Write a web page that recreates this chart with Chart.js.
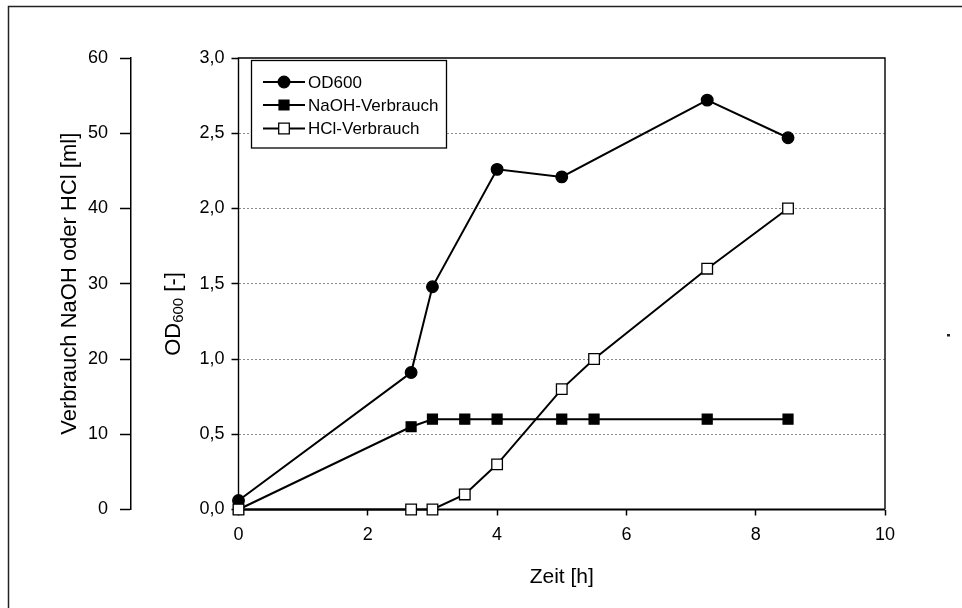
<!DOCTYPE html>
<html><head><meta charset="utf-8">
<script src="https://cdn.jsdelivr.net/npm/chart.js@4.4.1/dist/chart.umd.min.js"></script>
<style>html,body{margin:0;padding:0;background:#fff;}#wrap{width:962px;height:608px;position:relative}canvas{display:block}</style>
</head><body><div id="wrap"><canvas id="c" width="962" height="608"></canvas></div>
<script>
// ---- data ----
const timeOD   = [0, 2.67, 3.0, 4.0, 5.0, 7.25, 8.5];
const od600    = [0.06, 0.91, 1.48, 2.26, 2.21, 2.72, 2.47];
const timeBase = [0, 2.67, 3.0, 3.5, 4.0, 5.0, 5.5, 7.25, 8.5];
const naoh     = [0, 11, 12, 12, 12, 12, 12, 12, 12];
const hcl      = [0, 0, 0, 2, 6, 16, 20, 32, 40];
const xTicks   = [0, 2, 4, 6, 8, 10];
const odTicks  = [0, 0.5, 1.0, 1.5, 2.0, 2.5, 3.0];
const mlTicks  = [0, 10, 20, 30, 40, 50, 60];
const seriesNames = ['OD600', 'NaOH-Verbrauch', 'HCl-Verbrauch'];
const xTitle  = 'Zeit [h]';
const mlTitle = 'Verbrauch NaOH oder HCl [ml]';

const FONT = "'Liberation Sans', Arial, Helvetica, sans-serif";
const INK = '#000';

function pts(xs, ys){ return xs.map((x,i)=>({x:x, y:ys[i]})); }

const markerStyles = [
  {pointStyle:'circle', radius:5.8, fill:INK, stroke:INK},
  {pointStyle:'rect', radius:7, fill:INK, stroke:INK},
  {pointStyle:'rect', radius:7.5, fill:'#fff', stroke:INK}
];

function drawMarker(ctx, st, x, y){
  ctx.save();
  ctx.fillStyle = st.fill; ctx.strokeStyle = st.stroke; ctx.lineWidth = 1.3;
  ctx.beginPath();
  if (st.pointStyle === 'circle') {
    ctx.arc(x, y, st.radius, 0, Math.PI*2);
  } else {
    const h = st.radius * Math.SQRT1_2;
    ctx.rect(x-h, y-h, 2*h, 2*h);
  }
  ctx.fill(); ctx.stroke();
  ctx.restore();
}

const decor = {
  id: 'decor',
  beforeDraw(chart){
    const ctx = chart.ctx;
    ctx.save();
    ctx.fillStyle = '#fff';
    ctx.fillRect(0,0,chart.width,chart.height);
    ctx.strokeStyle = '#222'; ctx.lineWidth = 1.5;
    ctx.beginPath();
    ctx.moveTo(8.5, chart.height); ctx.lineTo(8.5, 6.5); ctx.lineTo(chart.width, 6.5);
    ctx.stroke();
    ctx.fillStyle = '#222';
    ctx.fillRect(947, 334, 3, 2.5);
    ctx.restore();
  },
  beforeDatasetsDraw(chart){
    const ctx = chart.ctx, a = chart.chartArea;
    ctx.save();
    ctx.strokeStyle = INK; ctx.lineWidth = 1.4;
    ctx.beginPath();
    ctx.moveTo(a.left, a.bottom); ctx.lineTo(a.left, a.top); ctx.lineTo(a.right, a.top); ctx.lineTo(a.right, a.bottom);
    ctx.stroke();
    ctx.lineWidth = 2;
    ctx.beginPath(); ctx.moveTo(a.left, a.bottom); ctx.lineTo(a.right, a.bottom); ctx.stroke();
    ctx.restore();
  },
  afterDraw(chart){
    const ctx = chart.ctx;
    // legend
    ctx.save();
    ctx.fillStyle = '#fff';
    ctx.fillRect(251.5, 60.5, 195, 87.5);
    ctx.strokeStyle = INK; ctx.lineWidth = 1.3;
    ctx.strokeRect(251.5, 60.5, 195, 87.5);
    const rows = [82, 105, 128.5];
    chart.data.datasets.forEach((ds) => {
      const idx = ds.legendIndex;
      const y = rows[idx];
      ctx.strokeStyle = INK; ctx.lineWidth = 2;
      ctx.beginPath(); ctx.moveTo(263, y); ctx.lineTo(305, y); ctx.stroke();
      drawMarker(ctx, markerStyles[idx], 284, y);
      ctx.fillStyle = INK;
      ctx.font = '17px ' + FONT;
      ctx.textAlign = 'left'; ctx.textBaseline = 'middle';
      ctx.fillText(ds.label, 308, y+1);
    });
    ctx.restore();
    // OD axis title with subscript
    ctx.save();
    ctx.translate(174, 314);
    ctx.rotate(-Math.PI/2);
    ctx.fillStyle = INK;
    ctx.textBaseline = 'middle'; ctx.textAlign = 'left';
    const big = '22px ' + FONT, small = '15px ' + FONT;
    ctx.font = big; const w1 = ctx.measureText('OD').width; const w3 = ctx.measureText(' [-]').width;
    ctx.font = small; const w2 = ctx.measureText('600').width;
    let x0 = -(w1+w2+w3)/2;
    ctx.font = big; ctx.fillText('OD', x0, 0);
    ctx.font = small; ctx.fillText('600', x0+w1, 5);
    ctx.font = big; ctx.fillText(' [-]', x0+w1+w2, 0);
    ctx.restore();
  }
};

const ds = [
  {label: seriesNames[0], data: pts(timeOD, od600), yAxisID:'yOD', legendIndex:0, order:3,
   pointStyle:'circle', pointRadius:5.8, pointBackgroundColor:INK, pointBorderColor:INK, pointBorderWidth:1.3},
  {label: seriesNames[1], data: pts(timeBase, naoh), yAxisID:'yML', legendIndex:1, order:2,
   pointStyle:'rect', pointRadius:7, pointBackgroundColor:INK, pointBorderColor:INK, pointBorderWidth:1.3},
  {label: seriesNames[2], data: pts(timeBase, hcl), yAxisID:'yML', legendIndex:2, order:1,
   pointStyle:'rect', pointRadius:7.5, pointBackgroundColor:'#fff', pointBorderColor:INK, pointBorderWidth:1.3}
].map(d => Object.assign({borderColor:INK, borderWidth:2, showLine:true, fill:false, tension:0, clip:false}, d));

new Chart(document.getElementById('c'), {
  type: 'scatter',
  data: { datasets: ds },
  plugins: [decor],
  options: {
    responsive: false,
    animation: false,
    devicePixelRatio: 1,
    layout: { padding: {left: 50, right: 77, top: 58, bottom: 0} },
    plugins: { legend: {display:false}, tooltip: {enabled:false} },
    scales: {
      x: {
        type:'linear', position:'bottom', min:0, max:10,
        afterBuildTicks(s){ s.ticks = xTicks.map(v=>({value:v})); },
        ticks: { font:{size:18, family:FONT}, color:INK, padding:9 },
        grid: { drawOnChartArea:false, drawTicks:true, tickLength:6, tickColor:INK, tickWidth:1.5, color:'rgba(0,0,0,0)' },
        border: { display:false },
        title: { display:true, text:xTitle, font:{size:21, family:FONT}, color:INK, padding:{top:0, bottom:18} },
        afterFit(s){ s.height = 98.5; }
      },
      yOD: {
        type:'linear', position:'left', weight:0, min:0, max:3,
        afterBuildTicks(s){ s.ticks = odTicks.map(v=>({value:v})); },
        ticks: { font:{size:18, family:FONT}, color:INK, padding:7,
                 callback: v => Number(v).toFixed(1).replace('.', ',') },
        grid: { drawOnChartArea:true, drawTicks:true, tickLength:7, tickColor:INK, tickWidth:1.5, lineWidth:1,
                color: c => (c.tick && (c.tick.value === 0 || c.tick.value === 3)) ? 'rgba(0,0,0,0)' : '#8c8c8c' },
        border: { display:false, dash:[2,2] },
        title: { display:false },
        afterFit(s){ s.width = 107.5; }
      },
      yML: {
        type:'linear', position:'left', weight:1, min:0, max:60,
        afterBuildTicks(s){ s.ticks = mlTicks.map(v=>({value:v})); },
        ticks: { font:{size:18, family:FONT}, color:INK, padding:12 },
        grid: { drawOnChartArea:false, drawTicks:true, tickLength:11, tickColor:INK, tickWidth:1.5 },
        border: { display:true, color:INK, width:1.5 },
        title: { display:true, text:mlTitle, font:{size:22, family:FONT}, color:INK, padding:{top:7, bottom:0} },
        afterFit(s){ s.width = 81; }
      }
    }
  }
});
</script>
</body></html>
